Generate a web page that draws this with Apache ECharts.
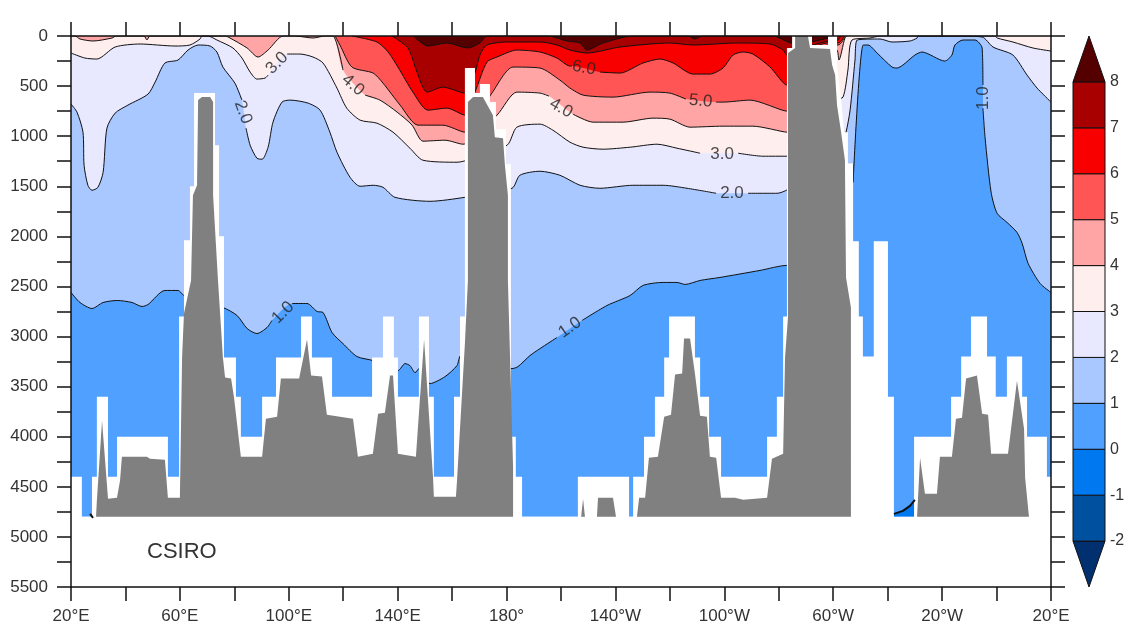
<!DOCTYPE html>
<html lang="en">
<head>
    <meta charset="UTF-8">
    <!-- ECharts -->
    <script type="text/javascript" src="https://cdn.jsdelivr.net/npm/echarts@6/dist/echarts.min.js"></script>
    <style>
        html, body { margin: 0; padding: 0; background: #fff; }
        #SectionChart { width: 1140px; height: 635px; }
    </style>
</head>
<body>
    <div id="SectionChart"></div>
</body>

<script>
    // all contours are [longitude 20..380, depth], [lon, null] = gap for a label
    var contourOne = [[20,2560],[23.3,2660],[27.7,2720],[31.8,2660],[37,2640],[42.4,2660],[46.1,2700],[48.3,2680],[54.5,2540],[59.3,2540],[61.9,2600],[75.8,2710],[81,2790],[84.7,2920],[88.3,2970],[92,2910],[93.8,2840],[96,null],[101.2,2670],[106.7,2670],[110.4,2750],[112.6,2760],[115.9,2960],[119.9,3070],[125.1,3200],[131,3240],[132.8,3270],[140.1,3340],[142.7,3270],[144.5,3290],[146.4,3360],[148.2,3310],[151.9,3470],[157.4,3400],[161.8,3290],[163.3,3190],[182,3320],[184.2,3300],[188.6,3190],[192.3,3120],[198.5,3010],[203,null],[207.7,2840],[216.9,2690],[225.4,2590],[230.1,2490],[237.5,2460],[242.6,2460],[245.6,2480],[251.1,2440],[258.4,2410],[273.1,2340],[283,2290],[304.7,2290],[305,1280],[307.3,1280],[307.3,1460],[311,90],[312.8,90],[316.1,170],[321.6,310],[323.4,320],[325.6,290],[330,190],[332.6,160],[341,250],[343.6,190],[344.7,90],[347.7,40],[352.1,40],[354.7,120],[355,490],[355,null],[355,720],[355.8,1020],[358,1560],[360.2,1770],[363.8,1860],[367.5,1960],[369.4,2070],[371.6,2270],[376,2470],[380,2560]];
    var contourTwo = [[20,680],[22.2,760],[24.4,960],[24.8,1290],[26.2,1490],[27.7,1540],[29.9,1510],[31.8,1360],[33.2,920],[36.2,770],[40.9,690],[48.3,580],[50.9,460],[54.5,270],[59.3,240],[63,140],[66.7,90],[71.1,100],[73.6,160],[75.8,310],[80.2,470],[82.8,640],[83.5,null],[84.3,920],[85.8,1090],[88.3,1220],[90.2,1230],[92.4,1110],[94.2,860],[97.5,660],[100.5,640],[107.1,670],[111.5,740],[115.1,960],[117.7,1160],[122.5,1410],[126.2,1500],[131,1490],[134.6,1510],[139,1610],[151.9,1650],[164.7,1610],[182,1520],[184.9,1390],[192.3,1350],[199.6,1390],[207,1490],[214.3,1520],[226.4,1490],[237.5,1490],[246.3,1520],[257,1570],[263,null],[268.7,1570],[279.4,1570],[283.4,1530],[302.5,1140],[304.7,960],[306.2,740],[308,240],[308.8,40],[317.2,30],[321.6,60],[328.2,50],[330.8,20],[331.1,0],[345.5,0],[354.7,10],[358.7,110],[366,190],[371.2,390],[374.9,520],[380,660]];
    var contourThree = [[20,170],[25.1,220],[29.5,230],[36.2,110],[45.4,80],[58.2,100],[63.7,90],[67.4,30],[68.1,0],[70.3,0],[73.6,40],[79.5,120],[82.8,220],[85.8,360],[88.3,430],[91.3,420],[92.4,390],[96,null],[99.4,180],[104.1,180],[108.9,210],[112.6,270],[117.7,520],[121.3,720],[126.2,840],[132.4,870],[138.3,960],[144.5,1120],[149.3,1240],[161.8,1260],[165.5,1240],[180.2,1090],[183.8,910],[192.3,880],[197,940],[203.3,1060],[208.1,1110],[215.4,1130],[225.4,1110],[235.3,1080],[242.6,1120],[251.1,1170],[259,null],[265.1,1170],[274.2,1200],[283,1200],[300.7,640],[303.6,610],[305.4,340],[306.9,40],[313.5,20],[317.2,0],[359.4,0],[360.2,20],[366,60],[373.4,120],[380,150]];
    var contourFour = [[20,0],[21.5,0],[23.3,30],[28.1,50],[35.1,20],[36.5,0],[46.8,0],[47.9,40],[49,0],[76.6,0],[78.4,20],[84.7,120],[88.7,210],[92.4,140],[97.9,0],[102.3,0],[108.9,20],[113.3,0],[116.2,0],[119.9,340],[123,null],[128,590],[133.5,640],[139.8,760],[145.3,890],[149.3,1050],[157.4,1040],[164,1080],[176.5,790],[183.8,560],[192.3,570],[195.6,600],[200,null],[204.4,780],[211.8,860],[222.8,860],[233.8,820],[240,830],[247.4,910],[259.5,900],[270.5,900],[283,960],[291.5,240],[298.1,110],[301.4,140],[302.1,240],[304.3,20],[305.1,0]];
    var contourFive = [[117,0],[118.8,90],[123.2,310],[131,370],[134.6,470],[140.9,690],[147.5,890],[156.6,890],[164.7,960],[174.6,570],[182.4,310],[192.3,320],[199.6,440],[203.3,520],[208.1,590],[219.1,610],[232.7,560],[240,570],[245.9,630],[251,null],[256.9,660],[259.5,660],[269.4,640],[283,750],[291.5,190],[298.1,90],[301.8,90],[303.2,60],[304.3,0]];
    var contourSix = [[123.2,0],[132.4,60],[136.5,160],[140.1,310],[145.6,560],[151.1,740],[158.1,720],[164.7,790],[168.4,560],[172.8,260],[176.5,210],[183.8,140],[192.3,160],[198.5,220],[203.3,300],[204,300],[209,null],[214.3,360],[221.7,370],[230.1,270],[236.4,230],[241.2,270],[248.5,380],[254.7,380],[259.5,320],[263.2,190],[266.9,160],[270.5,180],[276.8,310],[283,490],[291.5,140],[298.1,70],[301.8,70],[303.2,40],[304,0]];
    var contourSeven = [[137.9,0],[143.8,120],[147.1,360],[150.8,560],[156.6,510],[164.7,570],[168.4,370],[170.2,190],[172.8,90],[180.2,60],[192.3,60],[198.5,90],[203.3,140],[209.5,170],[221.7,110],[240,70],[248.5,90],[264.6,70],[276.8,80],[281.6,140],[283,190],[291.5,100],[298.1,50],[301.8,40],[302.8,0]];
    var contourEight = [[145.8,0],[151,100],[158.1,70],[165.8,120],[170.2,70],[172.8,0],[195.2,0],[202.2,50],[207,70],[209.5,140],[215.4,70],[226.4,0],[246.7,0],[249.2,30],[251.8,0],[277.9,0],[284.9,70],[291.5,60],[298.1,20],[299.6,0]];
    var contourZeroEast = [[322.3,4770],[325.6,4740],[328.2,4690],[330,4630]];
    var contourZeroWest = [[27,4770],[28.1,4810]];
    var seaFloorLine = [[20,4800],[380,4800]];

    // white cells the model has no data for, stepped
    var noDataTop = [[20,4400],[24,4400],[24,4800],[27.7,4800],[27.7,4400],[29.5,4400],[29.5,3600],[33.6,3600],[33.6,4400],[36.9,4400],[36.9,4000],[55.6,4000],[55.6,4400],[59.7,4400],[59.7,2800],[61.5,2800],[61.5,2040],[63.7,2040],[63.7,1500],[65.2,1500],[65.2,570],[72.9,570],[72.9,1090],[74.4,1090],[74.4,2000],[76.2,2000],[76.2,3210],[80.6,3210],[80.6,3600],[82.4,3600],[82.4,4000],[90.2,4000],[90.2,3600],[95.3,3600],[95.3,3210],[104.5,3210],[104.5,2800],[108.5,2800],[108.5,3210],[115.9,3210],[115.9,3600],[130.6,3600],[130.6,3210],[134.6,3210],[134.6,2800],[138.6,2800],[138.6,3210],[140.1,3210],[140.1,3600],[147.8,3600],[147.8,2800],[151.5,2800],[151.5,3600],[153.3,3600],[153.3,4400],[160.7,4400],[160.7,3600],[162.9,3600],[162.9,2800],[164.7,2800],[164.7,320],[168.4,320],[168.4,570],[170.2,570],[170.2,480],[173.9,480],[173.9,660],[176.1,660],[176.1,930],[179.8,930],[179.8,1280],[181.6,1280],[181.6,4000],[183.4,4000],[183.4,4400],[185.7,4400],[185.7,4800],[206.2,4800],[206.2,4400],[225,4400],[225,4800],[226.5,4800],[226.5,4400],[230.5,4400],[230.5,4000],[234.5,4000],[234.5,3600],[237.9,3600],[237.9,3210],[239.7,3210],[239.7,2800],[249.2,2800],[249.2,3210],[251.1,3210],[251.1,3600],[254.4,3600],[254.4,4000],[258.8,4000],[258.8,4400],[275.7,4400],[275.7,4000],[279.3,4000],[279.3,3600],[281.6,3600],[281.6,2800],[283,2800],[283,120],[284.9,120],[284.9,0],[292.2,0],[292.2,90],[298.1,90],[298.1,0],[301.4,0],[301.4,290],[302.9,640],[304,960],[305.4,960],[305.4,1270],[307.3,1270],[307.3,2050],[309.4,2050],[309.4,2800],[310.9,2800],[310.9,3200],[314.9,3200],[314.9,2050],[320.1,2050],[320.1,3600],[322.3,3600],[322.3,4800],[329.7,4800],[329.7,4000],[343.3,4000],[343.3,3600],[347,3600],[347,3200],[350.6,3200],[350.6,2800],[356.5,2800],[356.5,3200],[359.7,3200],[359.7,3600],[363.8,3600],[363.8,3200],[369.4,3200],[369.4,3600],[371.2,3600],[371.2,4000],[378.5,4000],[378.5,4400],[380,4400]];

    // grey bottom topography
    var bottomTopo = [[29.2,4800],[29.5,4640],[31.4,3840],[33.6,4620],[36.9,4610],[38,4440],[38.7,4200],[47.9,4200],[49,4220],[54.5,4230],[55.6,4610],[60,4610],[60.8,3210],[61.5,2770],[64.1,2440],[64.8,1590],[66.3,1490],[66.7,640],[68.1,610],[71.1,610],[72.2,660],[72.2,1590],[74,2440],[75.8,3210],[76.6,3410],[78.8,3420],[79.9,3610],[82.4,4200],[90.2,4200],[91.6,3820],[95.7,3800],[97.1,3420],[103.8,3420],[106.7,3030],[108.2,3390],[112.2,3400],[114,3780],[123.6,3820],[125.4,4200],[130.9,4170],[132.8,3770],[135.3,3760],[137.2,3390],[138.3,3390],[140.1,4170],[146.7,4200],[149.7,3030],[153,4410],[153.3,4600],[161.4,4600],[161.8,4440],[164.7,3070],[165.8,2440],[165.8,660],[167.7,610],[171.3,610],[175,790],[175.7,1010],[178.7,1020],[179.4,1290],[180.5,1590],[180.5,2440],[182.4,4310],[182.4,4800],[207.4,4800],[208.1,4620],[208.8,4800],[213.2,4800],[213.6,4610],[219.1,4610],[220.2,4800],[227.9,4800],[228.7,4610],[230.9,4610],[232.3,4210],[235.6,4200],[237.9,3800],[240.4,3780],[241.9,3380],[244.5,3370],[245.2,3020],[247.4,3020],[249.2,3370],[251.1,3790],[253.6,3800],[254.7,4200],[257,4210],[258.8,4610],[263.9,4610],[266.9,4630],[275.7,4610],[277.5,4220],[281.6,4170],[282.3,3210],[283.4,2800],[283.4,170],[286,120],[286,0],[290.7,0],[291.5,120],[298.8,130],[299.6,290],[300.7,390],[301.4,690],[302.9,960],[304.3,1240],[304.7,2410],[306.5,2710],[306.5,4800],[330.8,4800],[331.9,4210],[333.7,4570],[338.1,4570],[339.2,4200],[343.6,4200],[345.1,3820],[347.3,3810],[348.8,3420],[352.8,3390],[354.7,3770],[356.9,3780],[358,4170],[364.2,4170],[367.5,3440],[370.1,3920],[370.5,4410],[371.9,4800]];

    // contour labels
    var labelLon = [95.7, 123.6, 83.2, 97.9, 203.3, 200, 208.4, 251.3, 259.2, 262.8, 355];
    var labelDepth = [270, 490, 760, 2760, 2910, 720, 320, 650, 1180, 1570, 620];
    var labelText = ['3.0', '4.0', '2.0', '1.0', '1.0', '4.0', '6.0', '5.0', '3.0', '2.0', '1.0'];
    var labelAngle = [45, -40, -70, 45, 35, -30, -10, -5, 0, 0, 90];

    // axis text
    var lonTickLabels = ['20°E', '60°E', '100°E', '140°E', '180°', '140°W', '100°W', '60°W', '20°W', '20°E'];

    // colour bar, one colour per band from the lower arrow to the upper arrow
    var bandEdges = [-3, -2, -1, 0, 1, 2, 3, 4, 5, 6, 7, 8, 9];
    var bandColors = ['#003070', '#0050a0', '#0078f0', '#50a0ff', '#a8c8ff', '#e8e8ff', '#ffeeee', '#ffa5a5', '#ff5555', '#f80000', '#a80000', '#550000'];

    function noGaps(points) {
        return points.filter(function (p) { return p[1] !== null; });
    }

    var lineColor = '#111';
    var labelColor = '#333';
    var fontName = '"Liberation Sans", Arial, sans-serif';
    var contours = [contourOne, contourTwo, contourThree, contourFour, contourFive, contourSix, contourSeven, contourEight];
    var contourSmooth = 0.25;

    var series = [];
    var zIndex = 2;

    function addArea(points, color, origin, smooth) {
        series.push({
            type: 'line', data: noGaps(points), symbol: 'none', silent: true, z: zIndex++, smooth: smooth,
            lineStyle: { width: 0 },
            areaStyle: { color: color, opacity: 1, origin: origin }
        });
    }
    function addLine(points, width, smooth) {
        series.push({
            type: 'line', data: points, symbol: 'none', silent: true, z: zIndex++, connectNulls: false, smooth: smooth,
            lineStyle: { color: lineColor, width: width }
        });
    }

    // deepest water first, then each warmer band painted from the surface down to its contour
    addArea(seaFloorLine, bandColors[3], 'start', false);
    for (var i = 0; i < contours.length; i++) {
        addArea(contours[i], bandColors[4 + i], 'start', contourSmooth);
    }
    addArea(contourZeroEast, bandColors[2], 4800, false);
    for (var i = 0; i < contours.length; i++) {
        addLine(contours[i], 1, contourSmooth);
    }
    addArea(noDataTop, '#fff', 'end', false);
    addArea(bottomTopo, '#808080', 4800, false);
    addLine(contourZeroEast, 2, false);
    addLine(contourZeroWest, 2, false);

    var labelData = [];
    for (var i = 0; i < labelText.length; i++) {
        labelData.push({
            value: [labelLon[i], labelDepth[i]],
            label: { show: true, position: 'inside', formatter: labelText[i], rotate: labelAngle[i] }
        });
    }
    series.push({
        type: 'scatter', data: labelData, symbolSize: 1, silent: true, z: zIndex++,
        itemStyle: { color: 'rgba(0,0,0,0)' },
        label: { color: '#222', fontFamily: fontName, fontSize: 17 }
    });

    // colour bar
    var bandData = [];
    for (var i = 0; i < bandColors.length; i++) {
        bandData.push([bandEdges[i], bandEdges[i + 1], i]);
    }
    series.push({
        type: 'custom', xAxisIndex: 2, yAxisIndex: 2, data: bandData, silent: true,
        encode: { y: [0, 1] },
        renderItem: function (params, api) {
            var low = api.value(0), high = api.value(1), idx = api.value(2);
            var a = api.coord([0, low]), b = api.coord([1, low]);
            var c = api.coord([1, high]), d = api.coord([0, high]);
            var points = [a, b, c, d];
            // first and last band are the arrow heads
            if (idx === 0) {
                points = [api.coord([0.5, low]), c, d];
            } else if (idx === bandColors.length - 1) {
                points = [a, b, api.coord([0.5, high])];
            }
            return {
                type: 'polygon', shape: { points: points },
                style: { fill: bandColors[idx], stroke: '#111', lineWidth: 1 }
            };
        }
    });

    var SectionChart = echarts.init(document.getElementById('SectionChart'), null, { renderer: 'canvas' });
    SectionChart.setOption({
        animation: false,
        backgroundColor: '#fff',
        title: {
            text: 'CSIRO', left: 142, top: 536, z: 200,
            textStyle: { color: labelColor, fontFamily: fontName, fontSize: 22, fontWeight: 'normal' }
        },
        grid: [
            { left: 71, right: 89, top: 36, bottom: 48 },
            { left: 1073, width: 32, top: 36, height: 551 }
        ],
        xAxis: [
            {
                type: 'value', min: 20, max: 380, interval: 20, z: 100,
                splitLine: { show: false },
                axisLine: { onZero: false, lineStyle: { color: lineColor, width: 1.5 } },
                axisTick: { length: 14, lineStyle: { color: lineColor, width: 1.5 } },
                axisLabel: {
                    color: labelColor, fontFamily: fontName, fontSize: 17, margin: 21,
                    showMinLabel: true, showMaxLabel: true,
                    formatter: function (v) {
                        var k = (v - 20) / 40;
                        return k === Math.floor(k) ? lonTickLabels[k] : '';
                    }
                }
            },
            {
                type: 'value', position: 'top', min: 20, max: 380, interval: 20, z: 100,
                splitLine: { show: false },
                axisLine: { onZero: false, lineStyle: { color: lineColor, width: 1.5 } },
                axisTick: { length: 14, lineStyle: { color: lineColor, width: 1.5 } },
                axisLabel: { show: false }
            },
            { type: 'value', gridIndex: 1, min: 0, max: 1, show: false }
        ],
        yAxis: [
            {
                type: 'value', inverse: true, min: 0, max: 5500, interval: 250, z: 100,
                splitLine: { show: false },
                axisLine: { onZero: false, lineStyle: { color: lineColor, width: 1.5 } },
                axisTick: { length: 14, lineStyle: { color: lineColor, width: 1.5 } },
                axisLabel: {
                    color: labelColor, fontFamily: fontName, fontSize: 17, margin: 23,
                    formatter: function (v) { return v % 500 === 0 ? String(v) : ''; }
                }
            },
            {
                type: 'value', position: 'right', inverse: true, min: 0, max: 5500, interval: 250, z: 100,
                splitLine: { show: false },
                axisLine: { onZero: false, lineStyle: { color: lineColor, width: 1.5 } },
                axisTick: { length: 14, lineStyle: { color: lineColor, width: 1.5 } },
                axisLabel: { show: false }
            },
            {
                type: 'value', gridIndex: 1, position: 'right', min: -3, max: 9, interval: 1,
                splitLine: { show: false },
                axisLine: { show: false },
                axisTick: { show: false },
                axisLabel: {
                    color: labelColor, fontFamily: fontName, fontSize: 16, margin: 5,
                    formatter: function (v) { return (v < -2 || v > 8) ? '' : String(v); }
                }
            }
        ],
        series: series
    });
</script>
</html>
